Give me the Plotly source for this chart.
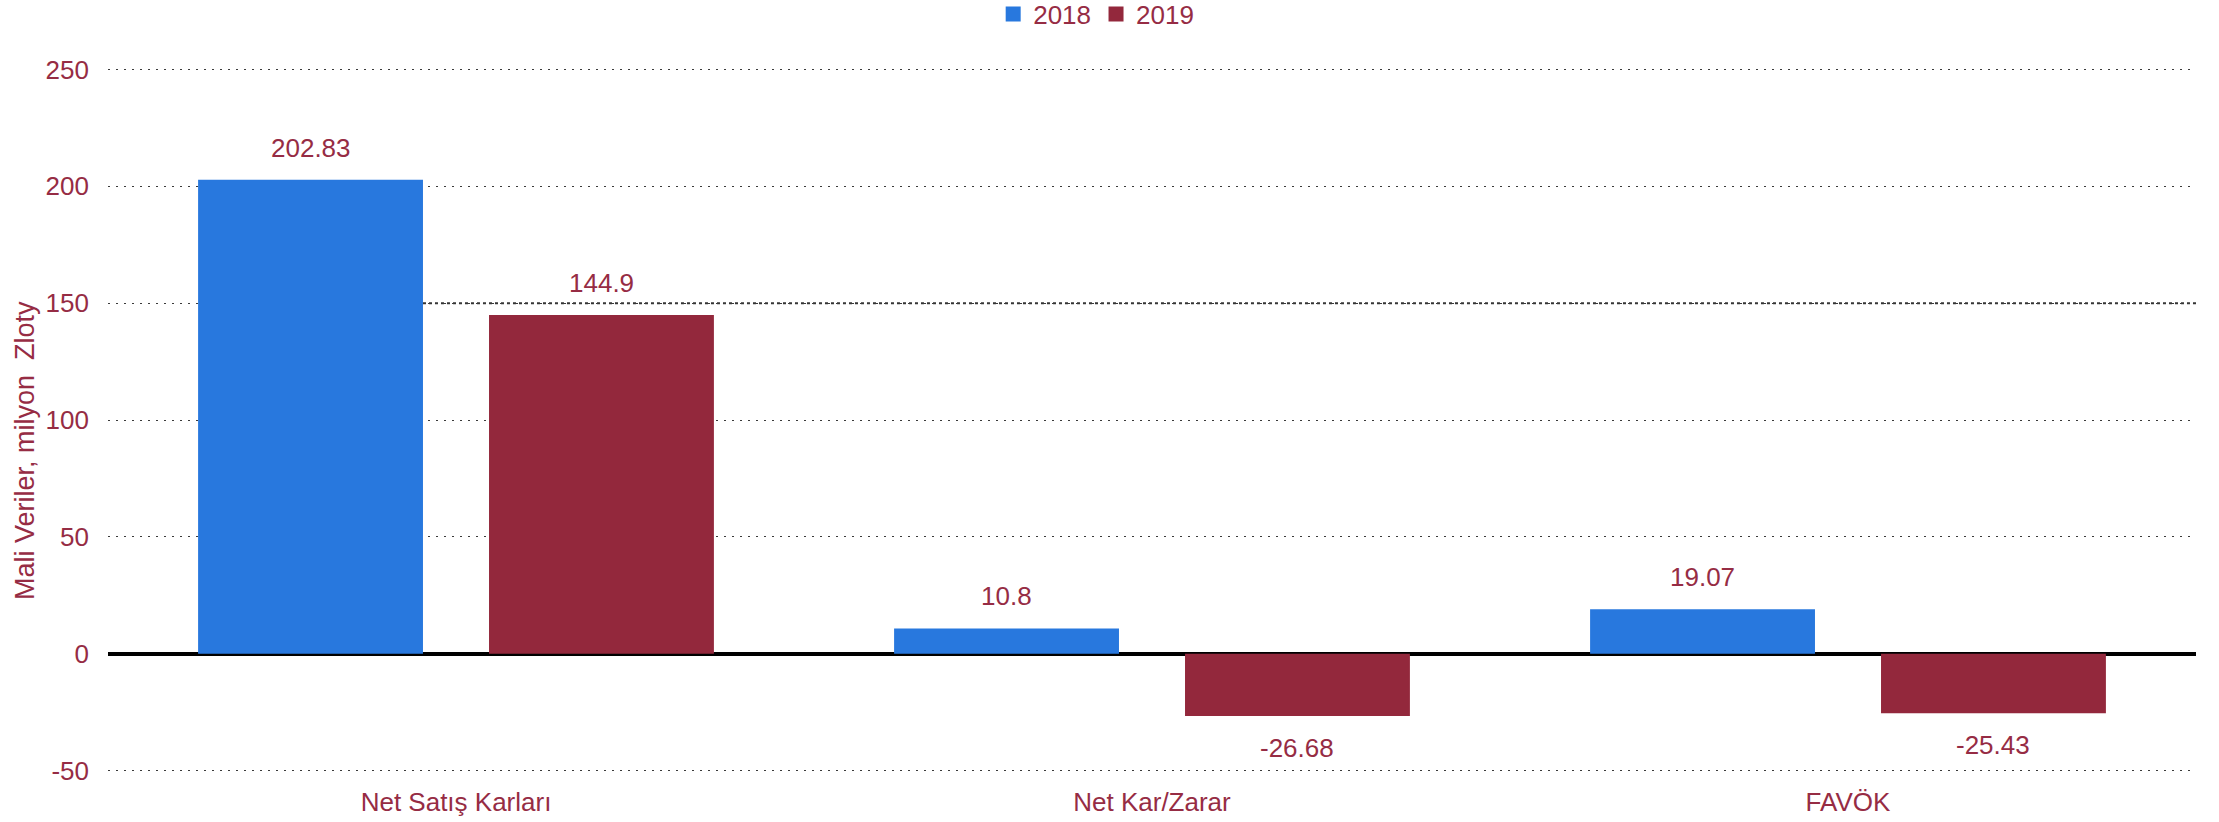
import plotly.graph_objects as go

categories = ["Net Satış Karları", "Net Kar/Zarar", "FAVÖK"]
series_names = ["2018", "2019"]
values_2018 = [202.83, 10.8, 19.07]
values_2019 = [144.9, -26.68, -25.43]
label_2018 = ["202.83", "10.8", "19.07"]
label_2019 = ["144.9", "-26.68", "-25.43"]
y_ticks = [-50, 0, 50, 100, 150, 200, 250]

BLUE = "#2878DE"
RED = "#93283C"
TXT = "#962C44"
FONT = "Liberation Sans, Arial, sans-serif"
FS = 26

BARGAP = 0.164
BGG = 0.227
slot = (1 - BARGAP) / 2
bar_w = slot * (1 - BGG)

ML, MR, MT, MB = 108, 23, 68, 50
W, H = 2219, 822
PH = H - MT - MB

fig = go.Figure()
fig.add_trace(go.Bar(name=series_names[0], x=categories, y=values_2018, showlegend=False,
                     marker=dict(color=BLUE, line=dict(width=0))))
fig.add_trace(go.Bar(name=series_names[1], x=categories, y=values_2019, showlegend=False,
                     marker=dict(color=RED, line=dict(width=0))))
# legend entries with larger square symbols
for name, col in zip(series_names, [BLUE, RED]):
    fig.add_trace(go.Scatter(name=name, x=[None], y=[None], mode="markers",
                             marker=dict(symbol="square", size=15, color=col), showlegend=True,
                             hoverinfo="skip"))

annotations = []
for i, (v, t) in enumerate(zip(values_2018, label_2018)):
    annotations.append(dict(x=i - slot / 2, y=v, xref="x", yref="y", text=t, showarrow=False,
                            yanchor="bottom" if v >= 0 else "top", yshift=15 if v >= 0 else -15,
                            font=dict(family=FONT, size=FS, color=TXT)))
for i, (v, t) in enumerate(zip(values_2019, label_2019)):
    annotations.append(dict(x=i + slot / 2, y=v, xref="x", yref="y", text=t, showarrow=False,
                            yanchor="bottom" if v >= 0 else "top", yshift=15 if v >= 0 else -15,
                            font=dict(family=FONT, size=FS, color=TXT)))

annotations.append(dict(x=(25 - ML) / (W - ML - MR), xref="paper",
                        y=(H - MB - 451) / PH, yref="paper",
                        text="Mali Veriler, milyon\u00a0 Zloty",
                        textangle=-90, showarrow=False, xanchor="center", yanchor="middle",
                        font=dict(family=FONT, size=27, color=TXT)))

fig.update_layout(
    width=W, height=H,
    margin=dict(l=ML, r=MR, t=MT, b=MB, autoexpand=False),
    paper_bgcolor="white", plot_bgcolor="white",
    barmode="group", bargap=BARGAP, bargroupgap=BGG,
    font=dict(family=FONT, size=FS, color=TXT),
    showlegend=True,
    modebar=dict(bgcolor="rgba(0,0,0,0)", color="rgba(0,0,0,0)", activecolor="rgba(0,0,0,0)"),
    legend=dict(orientation="h", x=0.494, xanchor="center", xref="container",
                y=1 + (MT - 14) / PH, yanchor="middle", yref="paper",
                font=dict(family=FONT, size=FS, color=TXT), itemwidth=30,
                bgcolor="rgba(0,0,0,0)"),
    annotations=annotations,
    xaxis=dict(type="category", range=[-0.5, 2.5], showgrid=False, zeroline=False,
               showline=False, ticks="", ticklabelstandoff=12,
               tickfont=dict(family=FONT, size=FS, color=TXT)),
    yaxis=dict(range=[-50.6, 250.6], tickvals=y_ticks, ticktext=[str(t) for t in y_ticks],
               showgrid=True, gridcolor="#3a3a3a", gridwidth=1, griddash="1.5px,6.5px",
               zeroline=True, zerolinecolor="#000000", zerolinewidth=4,
               showline=False, ticks="", ticklabelstandoff=18,
               tickfont=dict(family=FONT, size=FS, color=TXT)),
    shapes=[dict(type="line", xref="x", yref="y",
                 x0=-slot / 2 + bar_w / 2, x1=2.5, y0=150, y1=150,
                 line=dict(color="#333333", width=2, dash="3px,3px"), layer="below")],
)

fig.write_html("out.html", config={"displaylogo": False},
               post_script="document.body.style.margin='0';document.body.style.overflow='hidden';")
